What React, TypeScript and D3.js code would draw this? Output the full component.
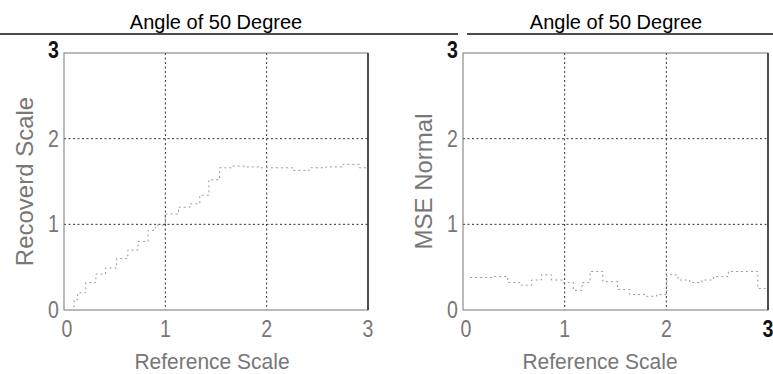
import React, { useEffect, useRef } from "react";
import * as d3 from "d3";

const ticks = [0, 1, 2, 3];
const tickLabels = ["0", "1", "2", "3"];
const titles = ["Angle of 50 Degree", "Angle of 50 Degree"];
const xLabel = "Reference Scale";
const yLabels = ["Recoverd Scale", "MSE Normal"];

// left panel: recovered scale vs reference scale
const recRef = [0.09, 0.11, 0.16, 0.27, 0.36, 0.46, 0.58, 0.68, 0.78, 0.88, 0.92, 1.08, 1.18, 1.3, 1.38, 1.48, 1.59, 1.74, 1.87, 2.0, 2.17, 2.34, 2.5, 2.67, 2.83, 3.0];
const recValues = [0.04, 0.12, 0.2, 0.32, 0.42, 0.49, 0.6, 0.7, 0.8, 0.93, 0.99, 1.12, 1.2, 1.24, 1.34, 1.52, 1.66, 1.68, 1.67, 1.66, 1.66, 1.63, 1.66, 1.67, 1.7, 1.66];

// right panel: normalised MSE vs reference scale
const mseRef = [0.07, 0.23, 0.39, 0.49, 0.63, 0.72, 0.82, 0.92, 1.05, 1.12, 1.22, 1.28, 1.47, 1.57, 1.71, 1.87, 1.94, 2.07, 2.16, 2.3, 2.4, 2.53, 2.69, 2.85, 2.95, 3.0];
const mseValues = [0.38, 0.38, 0.39, 0.32, 0.29, 0.35, 0.41, 0.35, 0.32, 0.23, 0.32, 0.45, 0.33, 0.24, 0.18, 0.16, 0.18, 0.41, 0.35, 0.32, 0.35, 0.39, 0.45, 0.45, 0.25, 0.25];

const FONT = "'Liberation Sans', Arial, sans-serif";

const App = () => {
  const ref = useRef<SVGSVGElement>(null);

  useEffect(() => {
    const svg = d3.select(ref.current);
    svg.selectAll("*").remove();

    // line under the titles (from the scanned page)
    svg.append("line").attr("x1", 0).attr("x2", 458).attr("y1", 34).attr("y2", 34).attr("stroke", "#111").attr("stroke-width", 1.3);
    svg.append("line").attr("x1", 467).attr("x2", 773).attr("y1", 34).attr("y2", 34).attr("stroke", "#111").attr("stroke-width", 1.3);

    const panels = [
      { left: 64, right: 368, xs: recRef, ys: recValues, title: titles[0], yLabel: yLabels[0], titleX: 216, xLabelX: 212, yLabelX: 33 },
      { left: 463, right: 768, xs: mseRef, ys: mseValues, title: titles[1], yLabel: yLabels[1], titleX: 616, xLabelX: 600, yLabelX: 432 },
    ];
    const top = 53;
    const bottom = 310;

    panels.forEach((p, pi) => {
      const x = d3.scaleLinear().domain([0, 3]).range([p.left, p.right]);
      const y = d3.scaleLinear().domain([0, 3]).range([bottom, top]);
      const g = svg.append("g");

      // grid
      g.selectAll(".gx")
        .data([1, 2])
        .enter()
        .append("line")
        .attr("x1", (d) => x(d))
        .attr("x2", (d) => x(d))
        .attr("y1", top)
        .attr("y2", bottom)
        .attr("stroke", "#333")
        .attr("stroke-dasharray", "2,2.5");
      g.selectAll(".gy")
        .data([1, 2])
        .enter()
        .append("line")
        .attr("x1", p.left)
        .attr("x2", p.right)
        .attr("y1", (d) => y(d))
        .attr("y2", (d) => y(d))
        .attr("stroke", "#333")
        .attr("stroke-dasharray", "2,2.5");

      // frame
      g.append("rect")
        .attr("x", p.left)
        .attr("y", top)
        .attr("width", p.right - p.left)
        .attr("height", bottom - top)
        .attr("fill", "none")
        .attr("stroke", "#777");
      g.append("line").attr("x1", p.right).attr("x2", p.right).attr("y1", top).attr("y2", bottom).attr("stroke", "#111").attr("stroke-width", 1.3);

      // data line
      const line = d3
        .line<number>()
        .x((d, i) => x(p.xs[i]))
        .y((d) => y(d))
        .curve(d3.curveStep);
      g.append("path")
        .attr("d", line(p.ys))
        .attr("fill", "none")
        .attr("stroke", "#999")
        .attr("stroke-width", 1)
        .attr("stroke-dasharray", "2,3");

      // tick labels (narrow, tall digits as in the scan)
      g.selectAll(".tx")
        .data(ticks)
        .enter()
        .append("text")
        .attr("transform", (d) => `translate(${x(d) + (d === 0 ? 3 : 0)}, ${bottom + 27}) scale(0.85, 1)`)
        .attr("text-anchor", "middle")
        .attr("font-family", FONT)
        .attr("font-size", 23)
        .attr("font-weight", (d) => (pi === 1 && d === 3 ? "bold" : "normal"))
        .attr("fill", (d) => (pi === 1 && d === 3 ? "#111" : "#777"))
        .text((d, i) => tickLabels[i]);
      g.selectAll(".ty")
        .data(ticks)
        .enter()
        .append("text")
        .attr("transform", (d) => `translate(${p.left - 5}, ${y(d) + 8 - (d === 3 ? 3 : 0)}) scale(0.85, 1)`)
        .attr("text-anchor", "end")
        .attr("font-family", FONT)
        .attr("font-size", 23)
        .attr("font-weight", (d) => (d === 3 ? "bold" : "normal"))
        .attr("fill", (d) => (d === 3 ? "#111" : "#777"))
        .text((d, i) => tickLabels[i]);

      // labels
      g.append("text")
        .attr("x", p.titleX)
        .attr("y", 29)
        .attr("text-anchor", "middle")
        .attr("font-family", FONT)
        .attr("font-size", 20)
        .attr("fill", "#000")
        .text(p.title);
      g.append("text")
        .attr("transform", `translate(${p.xLabelX}, 369) scale(1, 1.08)`)
        .attr("text-anchor", "middle")
        .attr("font-family", FONT)
        .attr("font-size", 21)
        .attr("fill", "#777")
        .text(xLabel);
      g.append("text")
        .attr("transform", `translate(${p.yLabelX}, ${(top + bottom) / 2}) rotate(-90)`)
        .attr("text-anchor", "middle")
        .attr("font-family", FONT)
        .attr("font-size", 24)
        .attr("fill", "#777")
        .text(p.yLabel);
    });
  }, []);

  return (
    <svg
      ref={ref}
      width={773}
      height={374}
      style={{ position: "absolute", left: 0, top: 0, background: "#fff" }}
    ></svg>
  );
};

export default App;
